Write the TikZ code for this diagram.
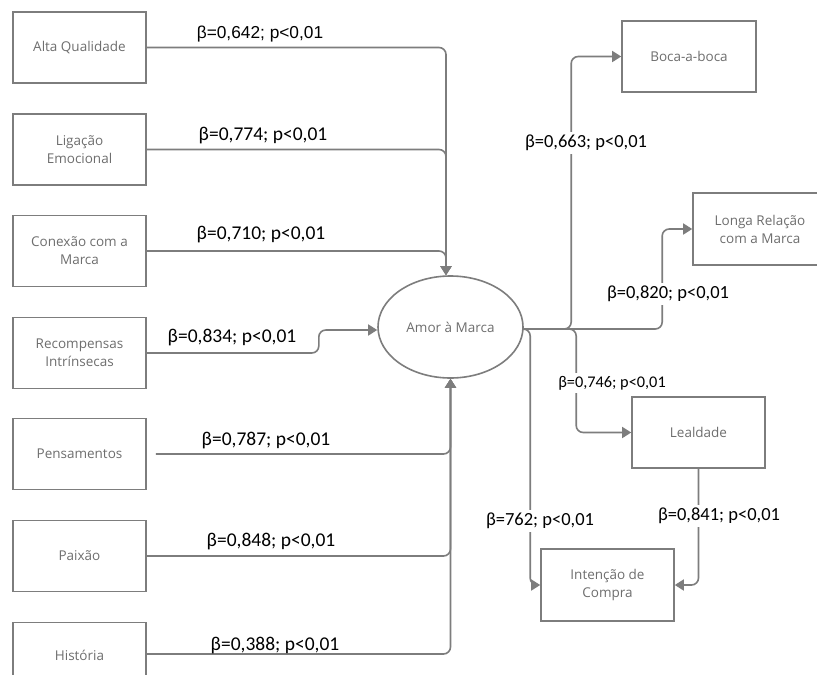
\documentclass[tikz,border=0pt]{standalone}
\usepackage{fontspec}
\usetikzlibrary{arrows.meta,shapes.geometric}
\newfontfamily\boxf{Open Sans}
\newfontfamily\lblf{Carlito}
\newfontfamily\arlf{Liberation Sans}
\definecolor{lngray}{RGB}{125,125,125}
\definecolor{txgray}{RGB}{110,110,110}
\begin{document}
\begin{tikzpicture}[x=1pt,y=-1pt,
  bx/.style={draw=lngray,line width=1.6pt,minimum width=133pt,minimum height=71pt,inner sep=0pt,
    align=center,text=txgray,font=\boxf\fontsize{13.5}{18}\selectfont},
  conn/.style={draw=lngray,line width=1.6pt,rounded corners=7pt},
  arr/.style={-{Triangle[length=9pt,width=11pt]}},
  lbl/.style={font=\lblf\fontsize{19.5}{20}\selectfont,inner sep=0pt},
  rlbl/.style={font=\lblf\fontsize{18.5}{20}\selectfont,fill=white,inner sep=3pt}]
\useasboundingbox (0,0) rectangle (817,675);
\fill[white] (0,0) rectangle (817,675);
% left boxes
\node[bx] (b1) at (79.5,47.5) {Alta Qualidade};
\node[bx] (b2) at (79.5,149.5) {Ligação\\Emocional};
\node[bx] (b3) at (79.5,251) {Conexão com a\\Marca};
\node[bx] (b4) at (79.5,353) {Recompensas\\Intrínsecas};
\node[bx] (b5) at (79.5,454) {Pensamentos};
\node[bx] (b6) at (79.5,556) {Paixão};
\node[bx] (b7) at (79.5,658) {\raisebox{5pt}{História}};
% central
\node[bx,ellipse,minimum width=145pt,minimum height=102pt] (amor) at (450.5,327) {Amor à Marca};
% right boxes
\node[bx,minimum width=134pt] (boca) at (689,56.5) {Boca-a-boca};
\node[bx,minimum width=134pt,minimum height=72pt] (longa) at (760,229) {Longa Relação\\com a Marca};
\node[bx] (leal) at (698.5,432.5) {Lealdade};
\node[bx,minimum height=72pt] (int) at (607.5,585) {Intenção de\\Compra};
% coordinates
\coordinate (topin) at ([xshift=-4.5pt]amor.north);
\coordinate (botin) at (amor.south);
% left connectors
\draw[conn,arr] (b1.east) -| (topin);
\draw[conn,arr] (b2.east) -| (topin);
\draw[conn,arr] (b3.east) -| (topin);
\draw[conn,arr] (b4.east) -- ++(172,0) |- ([yshift=-3pt]amor.west);
\draw[conn,arr] ([xshift=9pt]b5.east) -| (botin);
\draw[conn,arr] (b6.east) -| (botin);
\draw[conn,arr] ([yshift=4pt]b7.east) -| (botin);
% right connectors
\draw[conn,arr] ([yshift=-2pt]amor.east) -| ([xshift=-50pt]boca.west) -- (boca.west);
\draw[conn,arr] ([yshift=-2pt]amor.east) -| ([xshift=-30pt]longa.west) -- (longa.west);
\draw[conn,arr] ([yshift=-2pt]amor.east) -| ([xshift=-55pt]leal.west) -- (leal.west);
\draw[conn,arr] ([yshift=-2pt]amor.east) -| ([xshift=-10pt]int.west) -- (int.west);
\draw[conn,arr] (leal.south) |- (int.east);
% labels
\node[inner sep=0pt,font=\arlf\fontsize{17.3}{20}\selectfont] (l1) at (260,34) {β=0,642; p<0,01};
\node[lbl] (l2) at (263,136) {β=0,774; p<0,01};
\node[lbl] (l3) at (261,235) {β=0,710; p<0,01};
\node[lbl] (l4) at (232,338) {β=0,834; p<0,01};
\node[lbl] (l5) at (266,441) {β=0,787; p<0,01};
\node[lbl] (l6) at (271,542) {β=0,848; p<0,01};
\node[lbl] (l7) at (275,646) {β=0,388; p<0,01};
\node[rlbl] (r1) at (586,143) {β=0,663; p<0,01};
\node[rlbl] (r2) at (668,294) {β=0,820; p<0,01};
\node[rlbl,font=\lblf\fontsize{16.3}{18}\selectfont] (r3) at (612,383) {β=0,746; p<0,01};
\node[rlbl] (r4) at (540,521) {β=762; p<0,01};
\node[rlbl] (r5) at (719,516) {β=0,841; p<0,01};
\end{tikzpicture}
\end{document}
